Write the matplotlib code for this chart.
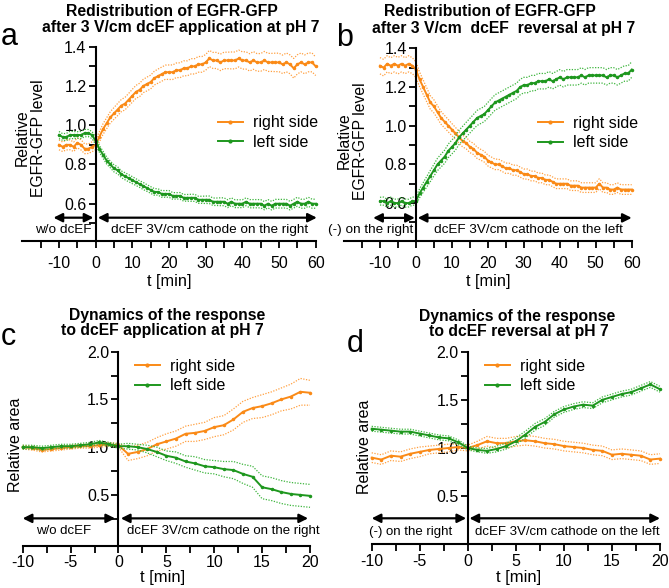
import matplotlib
matplotlib.use("Agg")
import matplotlib.pyplot as plt
import numpy as np
from matplotlib.lines import Line2D
from matplotlib.ticker import FixedLocator

plt.rcParams['font.family'] = ['Liberation Sans', 'DejaVu Sans']
plt.rcParams['axes.unicode_minus'] = False

# ---------------- data ----------------
t_ab = list(range(-10, 61))

a_right = [0.90, 0.89, 0.90, 0.90, 0.89, 0.91, 0.90, 0.88, 0.88, 0.89,
           0.90, 0.94, 0.98, 1.01, 1.04, 1.06, 1.08, 1.10, 1.11, 1.13,
           1.15, 1.17, 1.18, 1.20, 1.21, 1.22, 1.24, 1.25, 1.26, 1.27,
           1.27, 1.27, 1.28, 1.28, 1.29, 1.29, 1.30, 1.30, 1.31, 1.31,
           1.32, 1.34, 1.33, 1.33, 1.32, 1.33, 1.33, 1.33, 1.33, 1.34,
           1.33, 1.33, 1.32, 1.33, 1.32, 1.32, 1.33, 1.32, 1.32, 1.32,
           1.32, 1.31, 1.32, 1.31, 1.29, 1.31, 1.32, 1.31, 1.32, 1.32, 1.30]
a_right_sem = [0.025, 0.024, 0.026, 0.025, 0.024, 0.025, 0.026, 0.025, 0.024, 0.025,
               0.025, 0.026, 0.027, 0.028, 0.029, 0.030, 0.031, 0.031, 0.032, 0.032,
               0.033, 0.033, 0.034, 0.034, 0.035, 0.035, 0.035, 0.036, 0.036, 0.036,
               0.037, 0.037, 0.037, 0.038, 0.038, 0.038, 0.039, 0.039, 0.040, 0.040,
               0.040, 0.041, 0.041, 0.041, 0.042, 0.042, 0.042, 0.043, 0.043, 0.043,
               0.044, 0.044, 0.044, 0.045, 0.045, 0.045, 0.046, 0.046, 0.046, 0.047,
               0.047, 0.047, 0.048, 0.048, 0.050, 0.049, 0.048, 0.048, 0.048, 0.048, 0.047]
a_left = [0.95, 0.94, 0.94, 0.95, 0.95, 0.95, 0.95, 0.96, 0.96, 0.95,
          0.92, 0.88, 0.85, 0.82, 0.80, 0.78, 0.77, 0.75, 0.74, 0.73,
          0.72, 0.71, 0.70, 0.69, 0.68, 0.67, 0.66, 0.66, 0.65, 0.65,
          0.65, 0.64, 0.64, 0.64, 0.63, 0.63, 0.63, 0.63, 0.62, 0.62,
          0.62, 0.62, 0.61, 0.61, 0.61, 0.61, 0.60, 0.61, 0.60, 0.60,
          0.60, 0.61, 0.60, 0.60, 0.60, 0.60, 0.59, 0.60, 0.59, 0.60,
          0.60, 0.60, 0.60, 0.59, 0.60, 0.61, 0.60, 0.60, 0.61, 0.60, 0.60]
a_left_sem = [0.018, 0.017, 0.018, 0.019, 0.018, 0.017, 0.018, 0.019, 0.018, 0.018,
              0.018, 0.017, 0.018, 0.018, 0.017, 0.018, 0.018, 0.017, 0.018, 0.018,
              0.018, 0.017, 0.017, 0.018, 0.017, 0.017, 0.017, 0.016, 0.017, 0.017,
              0.017, 0.017, 0.016, 0.017, 0.017, 0.017, 0.018, 0.018, 0.018, 0.018,
              0.019, 0.019, 0.019, 0.019, 0.020, 0.020, 0.020, 0.020, 0.020, 0.020,
              0.020, 0.020, 0.021, 0.021, 0.021, 0.021, 0.021, 0.021, 0.022, 0.022,
              0.022, 0.022, 0.022, 0.022, 0.022, 0.023, 0.023, 0.023, 0.023, 0.023, 0.023]

b_right = [1.31, 1.30, 1.32, 1.31, 1.32, 1.31, 1.32, 1.31, 1.32, 1.31,
           1.29, 1.24, 1.20, 1.16, 1.12, 1.10, 1.07, 1.04, 1.02, 1.00,
           0.98, 0.96, 0.94, 0.92, 0.91, 0.89, 0.88, 0.86, 0.85, 0.84,
           0.82, 0.81, 0.80, 0.80, 0.79, 0.78, 0.78, 0.77, 0.77, 0.76,
           0.75, 0.75, 0.74, 0.74, 0.73, 0.73, 0.72, 0.72, 0.71, 0.70,
           0.70, 0.70, 0.70, 0.69, 0.69, 0.69, 0.68, 0.68, 0.68, 0.68,
           0.68, 0.70, 0.68, 0.68, 0.67, 0.67, 0.68, 0.67, 0.67, 0.67, 0.67]
b_right_sem = [0.042, 0.043, 0.042, 0.041, 0.042, 0.043, 0.042, 0.041, 0.042, 0.041,
               0.040, 0.038, 0.037, 0.036, 0.035, 0.034, 0.033, 0.033, 0.032, 0.032,
               0.031, 0.031, 0.030, 0.030, 0.030, 0.029, 0.029, 0.029, 0.028, 0.028,
               0.028, 0.028, 0.027, 0.027, 0.027, 0.027, 0.026, 0.026, 0.026, 0.026,
               0.026, 0.026, 0.025, 0.025, 0.025, 0.025, 0.025, 0.025, 0.025, 0.025,
               0.025, 0.025, 0.025, 0.025, 0.025, 0.025, 0.025, 0.025, 0.025, 0.025,
               0.025, 0.026, 0.025, 0.025, 0.025, 0.025, 0.025, 0.025, 0.025, 0.025, 0.025]
b_left = [0.61, 0.61, 0.60, 0.61, 0.60, 0.60, 0.61, 0.60, 0.60, 0.61,
          0.61, 0.65, 0.68, 0.71, 0.74, 0.77, 0.80, 0.82, 0.84, 0.87,
          0.89, 0.91, 0.94, 0.96, 0.98, 1.00, 1.02, 1.04, 1.05, 1.06,
          1.08, 1.10, 1.12, 1.13, 1.14, 1.15, 1.16, 1.17, 1.18, 1.20,
          1.21, 1.21, 1.22, 1.22, 1.23, 1.23, 1.23, 1.24, 1.23, 1.24,
          1.25, 1.24, 1.25, 1.25, 1.25, 1.25, 1.26, 1.25, 1.26, 1.26,
          1.26, 1.26, 1.26, 1.25, 1.26, 1.26, 1.25, 1.26, 1.27, 1.27, 1.29]
b_left_sem = [0.020, 0.021, 0.020, 0.021, 0.020, 0.021, 0.020, 0.021, 0.020, 0.021,
              0.021, 0.023, 0.025, 0.027, 0.029, 0.030, 0.032, 0.033, 0.034, 0.035,
              0.036, 0.036, 0.037, 0.037, 0.038, 0.038, 0.038, 0.039, 0.039, 0.039,
              0.040, 0.040, 0.040, 0.040, 0.040, 0.040, 0.040, 0.040, 0.040, 0.040,
              0.040, 0.040, 0.040, 0.040, 0.040, 0.040, 0.040, 0.040, 0.040, 0.040,
              0.040, 0.040, 0.040, 0.040, 0.040, 0.040, 0.040, 0.040, 0.040, 0.040,
              0.040, 0.040, 0.040, 0.040, 0.040, 0.040, 0.040, 0.040, 0.040, 0.040, 0.040]

t_cd = list(range(-10, 21))

c_right = [1.00, 0.99, 0.97, 0.98, 0.99, 1.00, 1.01, 1.01, 1.02, 1.03,
           1.02, 0.93, 0.95, 0.98, 1.03, 1.06, 1.09, 1.14, 1.15, 1.17,
           1.21, 1.23, 1.29, 1.37, 1.41, 1.43, 1.46, 1.50, 1.53, 1.58, 1.57]
c_right_sem = [0.02, 0.02, 0.02, 0.02, 0.02, 0.02, 0.02, 0.02, 0.02, 0.02,
               0.02, 0.07, 0.07, 0.07, 0.07, 0.08, 0.08, 0.08, 0.09, 0.09,
               0.10, 0.10, 0.11, 0.11, 0.11, 0.12, 0.12, 0.12, 0.13, 0.14, 0.13]
c_left = [1.00, 1.00, 0.99, 1.00, 1.01, 1.01, 1.02, 1.03, 1.05, 1.03,
          1.01, 1.01, 1.00, 0.98, 0.95, 0.91, 0.89, 0.85, 0.83, 0.80,
          0.79, 0.77, 0.76, 0.72, 0.69, 0.58, 0.56, 0.53, 0.51, 0.50, 0.49]
c_left_sem = [0.02, 0.02, 0.02, 0.02, 0.02, 0.02, 0.02, 0.02, 0.02, 0.02,
              0.02, 0.03, 0.03, 0.04, 0.05, 0.05, 0.06, 0.06, 0.07, 0.07,
              0.07, 0.08, 0.09, 0.10, 0.11, 0.12, 0.12, 0.12, 0.12, 0.12, 0.12]

d_right = [0.90, 0.88, 0.92, 0.91, 0.94, 0.96, 0.98, 0.99, 1.00, 1.01,
           1.00, 1.03, 1.07, 1.05, 1.05, 1.07, 1.08, 1.07, 1.05, 1.04,
           1.02, 1.01, 1.00, 0.98, 0.97, 0.93, 0.94, 0.93, 0.92, 0.88, 0.89]
d_right_sem = [0.05, 0.05, 0.05, 0.05, 0.05, 0.05, 0.04, 0.04, 0.04, 0.03,
               0.03, 0.04, 0.05, 0.05, 0.05, 0.05, 0.05, 0.05, 0.05, 0.05,
               0.05, 0.05, 0.05, 0.05, 0.05, 0.05, 0.05, 0.05, 0.05, 0.05, 0.05]
d_left = [1.20, 1.19, 1.18, 1.17, 1.17, 1.15, 1.13, 1.11, 1.10, 1.06,
          1.00, 0.98, 0.97, 0.99, 1.02, 1.07, 1.14, 1.22, 1.27, 1.35,
          1.40, 1.43, 1.45, 1.44, 1.50, 1.53, 1.56, 1.58, 1.62, 1.66, 1.61]
d_left_sem = [0.025, 0.025, 0.025, 0.025, 0.025, 0.025, 0.025, 0.025, 0.025, 0.025,
              0.020, 0.020, 0.025, 0.030, 0.030, 0.035, 0.035, 0.035, 0.035, 0.030,
              0.030, 0.030, 0.030, 0.030, 0.030, 0.030, 0.030, 0.030, 0.030, 0.030, 0.030]

legend_labels = ["right side", "left side"]

titles = {
    'a': ["Redistribution of EGFR-GFP", "after 3 V/cm dcEF application at pH 7"],
    'b': ["Redistribution of EGFR-GFP", "after 3 V/cm  dcEF  reversal at pH 7"],
    'c': ["Dynamics of the response", "to dcEF application at pH 7"],
    'd': ["Dynamics of the response", "to dcEF reversal at pH 7"],
}
arrow_texts = {
    'a': ["w/o dcEF", "dcEF 3V/cm cathode on the right"],
    'b': ["(-) on the right", "dcEF 3V/cm cathode on the left"],
    'c': ["w/o dcEF", "dcEF 3V/cm cathode on the right"],
    'd': ["(-) on the right", "dcEF 3V/cm cathode on the left"],
}

# ---------------- style ----------------
ORANGE = '#FA8A17'
ORANGE_L = '#FFA040'
GREEN = '#1E971E'
GREEN_L = '#3DB53D'

W, H = 669, 588
fig = plt.figure(figsize=(W / 100, H / 100), dpi=100)


def fx(x):
    return x / W


def fy(y):
    return 1 - y / H


def make_ax(left, top, right, bottom):
    return fig.add_axes([fx(left), fy(bottom), fx(right) - fx(left), (bottom - top) / H])


def style(ax, xlim, ylim, xmaj, xmin, ymaj, ymin, xpad):
    ax.set_xlim(*xlim)
    ax.set_ylim(*ylim)
    for s in ['top', 'right']:
        ax.spines[s].set_visible(False)
    ax.spines['left'].set_position(('data', 0))
    ax.spines['left'].set_linewidth(1.5)
    ax.spines['bottom'].set_linewidth(1.5)
    ax.xaxis.set_major_locator(FixedLocator(xmaj))
    ax.xaxis.set_minor_locator(FixedLocator(xmin))
    ax.yaxis.set_major_locator(FixedLocator(ymaj))
    ax.yaxis.set_minor_locator(FixedLocator(ymin))
    ax.tick_params(which='both', direction='out', length=5, width=1.3, labelsize=11.5)
    ax.tick_params(axis='x', pad=xpad)
    ax.tick_params(axis='y', pad=1.5)
    ax.patch.set_alpha(0)


def series(ax, t, y, sem, c, cl):
    y = np.array(y)
    sem = np.array(sem)
    ax.plot(t, y + sem, color=cl, lw=0.9, ls=(0, (1, 1.2)), clip_on=False)
    ax.plot(t, y - sem, color=cl, lw=0.9, ls=(0, (1, 1.2)), clip_on=False)
    ax.plot(t, y, color=c, lw=1.4, marker='o', ms=1.5, clip_on=False)


def arrows(ax, yfrac, left_span, right_span, ytext, texts, xtexts, has, fs):
    for span in (left_span, right_span):
        ax.annotate('', xy=(span[1], yfrac), xytext=(span[0], yfrac),
                    xycoords=('data', 'axes fraction'), textcoords=('data', 'axes fraction'),
                    arrowprops=dict(arrowstyle='<|-|>', lw=1.6, color='black',
                                    mutation_scale=13, shrinkA=0, shrinkB=0),
                    annotation_clip=False)
    for txt, xt, ha in zip(texts, xtexts, has):
        ax.text(xt, ytext, txt, transform=ax.get_xaxis_transform(), ha=ha,
                va='center', fontsize=fs, clip_on=False)


def legend(ax, x, y):
    handles = [Line2D([], [], color=ORANGE, lw=1.4, marker='o', ms=2),
               Line2D([], [], color=GREEN, lw=1.4, marker='o', ms=2)]
    ax.legend(handles, legend_labels, loc='center left', bbox_to_anchor=(fx(x), fy(y)),
              bbox_transform=fig.transFigure, frameon=False, fontsize=11.5,
              borderpad=0, handlelength=1.55, handletextpad=0.65, labelspacing=0.3,
              borderaxespad=0)


def titles_at(lines, centers, baselines):
    for txt, xc, yb in zip(lines, centers, baselines):
        fig.text(fx(xc), fy(yb), txt, ha='center', va='baseline', fontsize=11.3,
                 fontweight='bold')


# ---------------- panel a ----------------
axa = make_ax(22.3, 46.7, 315.7, 241)
style(axa, (-20, 60), (0.41, 1.4), list(range(-10, 61, 10)), list(range(-15, 56, 10)),
      [0.6, 0.8, 1.0, 1.2, 1.4], [0.5, 0.7, 0.9, 1.1, 1.3], 5.5)
axa.set_yticklabels(['0.6', '0.8', '1.0', '1.2', '1.4'])
series(axa, t_ab, a_right, a_right_sem, ORANGE, ORANGE_L)
series(axa, t_ab, a_left, a_left_sem, GREEN, GREEN_L)
arrows(axa, 0.12, (-11.5, -0.6), (0.6, 60.3), 0.055, arrow_texts['a'], [-8.8, 31.1],
       ['center', 'center'], 9.7)
axa.set_xlabel('t [min]', fontsize=11.8, va='top')
axa.xaxis.set_label_coords(0.5, -0.168)
axa.set_ylabel('Relative\nEGFR-GFP level', fontsize=11.3, linespacing=1.1)
axa.yaxis.set_label_coords(0.082, 0.53)
legend(axa, 218, 132.5)
titles_at(titles['a'], [171.5, 180.7], [15.5, 32])
fig.text(fx(1), fy(45), 'a', fontsize=22, ha='left', va='baseline')

# ---------------- panel b ----------------
axb = make_ax(344, 48.3, 631.7, 241)
style(axb, (-20, 60), (0.404, 1.4), list(range(-10, 61, 10)), list(range(-15, 56, 10)),
      [0.6, 0.8, 1.0, 1.2, 1.4], [0.5, 0.7, 0.9, 1.1, 1.3], 5.5)
axb.set_yticklabels(['0.6', '0.8', '1.0', '1.2', '1.4'])
series(axb, t_ab, b_right, b_right_sem, ORANGE, ORANGE_L)
series(axb, t_ab, b_left, b_left_sem, GREEN, GREEN_L)
arrows(axb, 0.12, (-11.9, -0.3), (0.5, 60.0), 0.055, arrow_texts['b'], [-0.8, 31.2],
       ['right', 'center'], 9.7)
axb.set_xlabel('t [min]', fontsize=11.8, va='top')
axb.xaxis.set_label_coords(0.5, -0.17)
axb.set_ylabel('Relative\nEGFR-GFP level', fontsize=11.3, linespacing=1.1)
axb.yaxis.set_label_coords(0.083, 0.52)
legend(axb, 538, 133)
titles_at(titles['b'], [490, 503.5], [16, 33])
fig.text(fx(336), fy(46), 'b', fontsize=22, ha='left', va='baseline')

# ---------------- panel c ----------------
axc = make_ax(22.7, 351.7, 310, 545.5)
style(axc, (-10, 20), (-0.03, 2.0), list(range(-10, 21, 5)),
      [-7.5, -2.5, 2.5, 7.5, 12.5, 17.5],
      [0.5, 1.0, 1.5, 2.0], [0.25, 0.75, 1.25, 1.75], 2.0)
axc.set_yticklabels(['0.5', '1.0', '1.5', '2.0'])
series(axc, t_cd, c_right, c_right_sem, ORANGE, ORANGE_L)
series(axc, t_cd, c_left, c_left_sem, GREEN, GREEN_L)
arrows(axc, 0.14, (-10, -0.35), (0.25, 19.8), 0.075, arrow_texts['c'], [-5.75, 10.9],
       ['center', 'center'], 9.5)
axc.set_xlabel('t [min]', fontsize=12, va='top')
axc.xaxis.set_label_coords(0.487, -0.124)
axc.set_ylabel('Relative area', fontsize=11.5)
axc.yaxis.set_label_coords(0.0, 0.52)
legend(axc, 135, 376)
titles_at(titles['c'], [167.5, 162], [320, 335])
fig.text(fx(1), fy(345), 'c', fontsize=22, ha='left', va='baseline')

# ---------------- panel d ----------------
axd = make_ax(371.7, 351.7, 660, 544.3)
style(axd, (-10, 20), (0.0, 2.0), list(range(-10, 21, 5)),
      [-7.5, -2.5, 2.5, 7.5, 12.5, 17.5],
      [0.5, 1.0, 1.5, 2.0], [0.75, 1.25, 1.75], 2.0)
axd.set_yticklabels(['0.5', '1.0', '1.5', '2.0'])
series(axd, t_cd, d_right, d_right_sem, ORANGE, ORANGE_L)
series(axd, t_cd, d_left, d_left_sem, GREEN, GREEN_L)
arrows(axd, 0.135, (-10, -0.17), (0.17, 20), 0.065, arrow_texts['d'], [-5.9, 10.4],
       ['center', 'center'], 9.5)
axd.set_xlabel('t [min]', fontsize=12, va='top')
axd.xaxis.set_label_coords(0.51, -0.131)
axd.set_ylabel('Relative area', fontsize=11.5)
axd.yaxis.set_label_coords(0.0, 0.508)
legend(axd, 485, 376)
titles_at(titles['d'], [517.5, 518.5], [320.7, 336])
fig.text(fx(347), fy(352), 'd', fontsize=22, ha='left', va='baseline')

fig.savefig('out.png', dpi=100)
